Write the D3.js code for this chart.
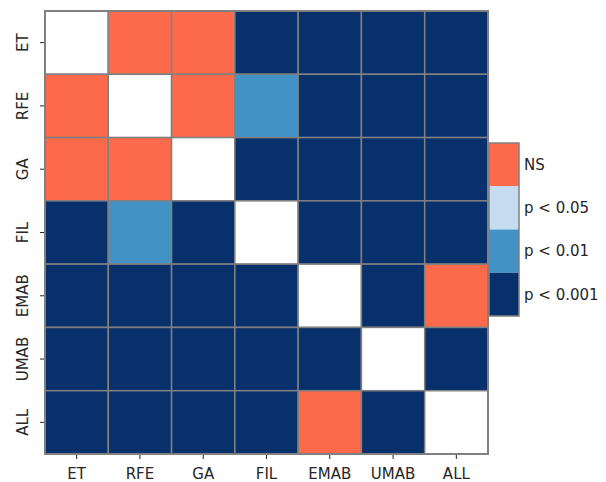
<!DOCTYPE html>
<html>
<head>
<meta charset="utf-8">
<script src="https://cdn.jsdelivr.net/npm/d3@7"></script>
<style>
  body { margin: 0; background: #fff; }
  text { font-family: "DejaVu Sans", sans-serif; fill: #262626; }
</style>
</head>
<body>
<svg id="chart" width="606" height="482"></svg>
<script>
const labels = ["ET", "RFE", "GA", "FIL", "EMAB", "UMAB", "ALL"]
// 0 = NS, 1 = p<0.05, 2 = p<0.01, 3 = p<0.001, null = diagonal
const matrix = [
  [null, 0, 0, 3, 3, 3, 3],
  [0, null, 0, 2, 3, 3, 3],
  [0, 0, null, 3, 3, 3, 3],
  [3, 2, 3, null, 3, 3, 3],
  [3, 3, 3, 3, null, 3, 0],
  [3, 3, 3, 3, 3, null, 3],
  [3, 3, 3, 3, 0, 3, null]
]
const levels = ["NS", "p < 0.05", "p < 0.01", "p < 0.001"]
const levelColors = ["#fc6a4b", "#c6dbef", "#4292c6", "#08306b"]

const svg = d3.select("#chart")
const gLeft = 45, gTop = 11, size = 443
const fs = "15px"

const x = d3.scaleBand().domain(labels).range([gLeft, gLeft + size])
const y = d3.scaleBand().domain(labels).range([gTop, gTop + size])
const color = d3.scaleOrdinal().domain([0, 1, 2, 3]).range(levelColors)

const cells = []
matrix.forEach((row, i) => row.forEach((v, j) => cells.push({r: labels[i], c: labels[j], v: v})))

svg.append("g").selectAll("rect")
  .data(cells).enter().append("rect")
  .attr("x", d => x(d.c))
  .attr("y", d => y(d.r))
  .attr("width", x.bandwidth())
  .attr("height", y.bandwidth())
  .attr("fill", d => d.v === null ? "#ffffff" : color(d.v))
  .attr("stroke", "#808080")
  .attr("stroke-width", 1.5)

// outer frame
svg.append("rect")
  .attr("x", gLeft).attr("y", gTop).attr("width", size).attr("height", size)
  .attr("fill", "none").attr("stroke", "#808080").attr("stroke-width", 2)

const xAxis = svg.append("g")
  .attr("transform", `translate(0,${gTop + size + 1})`)
  .call(d3.axisBottom(x).tickSize(4))
xAxis.select(".domain").remove()
xAxis.selectAll("line").attr("stroke", "#262626")
xAxis.selectAll("text").style("font-size", fs).attr("y", 24).attr("dy", 0)

const yAxis = svg.append("g")
  .attr("transform", `translate(${gLeft - 1},0)`)
  .call(d3.axisLeft(y).tickSize(4))
yAxis.select(".domain").remove()
yAxis.selectAll("line").attr("stroke", "#262626")
yAxis.selectAll("text")
  .style("font-size", fs)
  .attr("text-anchor", "middle")
  .attr("x", 0).attr("dy", 0)
  .attr("transform", "translate(-16,0) rotate(-90)")

// legend
const lx = 489, ly = 143, lw = 30, lh = 173
const ly2 = d3.scaleBand().domain(levels).range([ly, ly + lh])
const legend = svg.append("g")
legend.selectAll("rect")
  .data(levels).enter().append("rect")
  .attr("x", lx).attr("y", d => ly2(d))
  .attr("width", lw).attr("height", ly2.bandwidth())
  .attr("fill", (d, i) => levelColors[i])
legend.append("rect")
  .attr("x", lx).attr("y", ly).attr("width", lw).attr("height", lh)
  .attr("fill", "none").attr("stroke", "#808080").attr("stroke-width", 1.5)
legend.selectAll("text")
  .data(levels).enter().append("text")
  .attr("x", lx + lw + 5)
  .attr("y", d => ly2(d) + ly2.bandwidth() / 2)
  .attr("dy", "0.35em")
  .style("font-size", fs)
  .text(d => d)
</script>
</body>
</html>
